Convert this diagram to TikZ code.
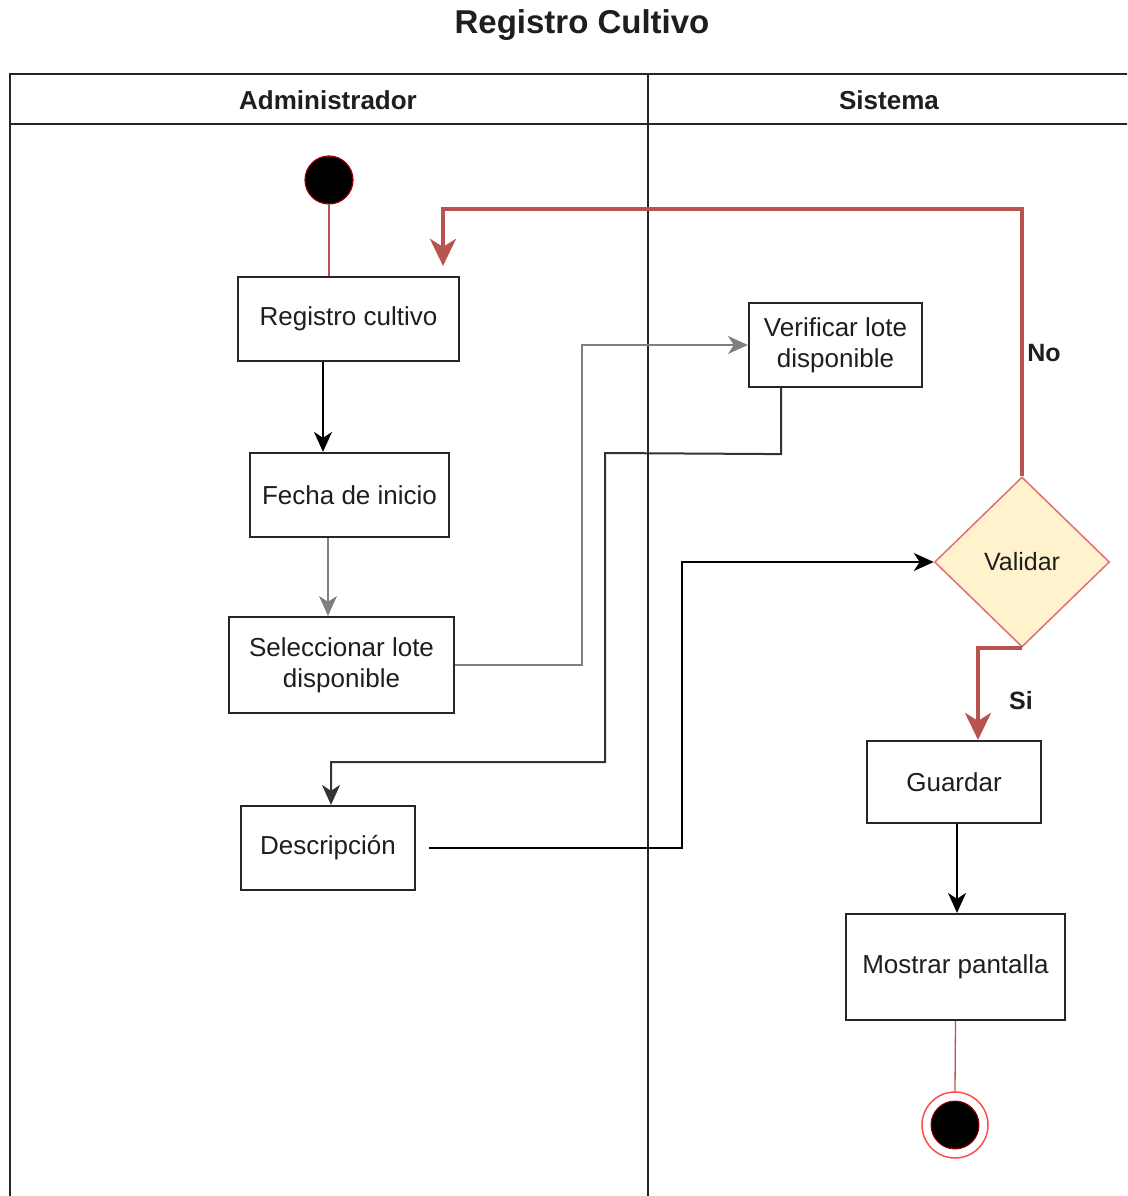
\documentclass[tikz,border=0pt]{standalone}
\usepackage{fontspec}
\setmainfont{Liberation Sans}
\usetikzlibrary{arrows.meta,shapes.geometric,calc}

\definecolor{txt}{HTML}{1E1E1E}
\definecolor{redline}{HTML}{B85450}
\definecolor{decfill}{HTML}{FFF2CC}
\definecolor{decdraw}{HTML}{E07070}
\definecolor{greyline}{HTML}{7F7F7F}

\tikzset{
  act/.style={draw=black!85, line width=2.2pt, fill=white, text=txt, align=center,
              inner sep=0pt, font=\fontsize{26}{31}\selectfont},
  arr/.style={draw=black, line width=2pt,
              -{Stealth[length=20pt,width=18pt,inset=6pt]}},
  greyarr/.style={arr, draw=greyline},
  redarr/.style={draw=redline, line width=4pt,
                 -{Stealth[length=27pt,width=26pt,inset=8pt]}},
  thinred/.style={draw=redline, line width=1.3pt},
  lanehead/.style={font=\bfseries\fontsize{26}{30}\selectfont, text=txt},
  guard/.style={font=\bfseries\fontsize{25}{29}\selectfont, text=txt},
}

\begin{document}
\begin{tikzpicture}[x=1pt,y=-1pt]
  \useasboundingbox (0,0) rectangle (1127,1196);
  \clip (0,0) rectangle (1127,1196);

  % title
  \node[font=\bfseries\fontsize{33}{38}\selectfont, text=txt] (title) at (582,25) {Registro Cultivo};

  % swimlane pool
  \draw[line width=2pt, black!85] (10,1220) -- (10,74) -- (1150,74);
  \draw[line width=2pt, black!85] (10,124) -- (1150,124);
  \draw[line width=2pt, black!85] (648,74) -- (648,1220);
  \node[lanehead] (laneA) at (328,100) {Administrador};
  \node[lanehead] (laneB) at (889,100) {Sistema};

  % activities
  \node[act, minimum width=221pt, minimum height=84pt] (reg)   at (348.5,319) {Registro cultivo};
  \node[act, minimum width=199pt, minimum height=84pt] (fecha) at (349.5,495) {Fecha de inicio};
  \node[act, minimum width=225pt, minimum height=96pt] (sel)   at (341.5,665) {Seleccionar lote\\disponible};
  \node[act, minimum width=174pt, minimum height=84pt] (desc)  at (328,848)   {Descripción};
  \node[act, minimum width=173pt, minimum height=84pt] (ver)   at (835.5,345) {Verificar lote\\disponible};
  \node[act, minimum width=174pt, minimum height=82pt] (guard) at (954,782)   {Guardar};
  \node[act, minimum width=219pt, minimum height=106pt] (most) at (955.5,967) {Mostrar pantalla};

  % decision
  \node[diamond, draw=decdraw, fill=decfill, line width=1.5pt, text=txt,
        minimum width=175pt, minimum height=170pt, inner sep=0pt,
        font=\fontsize{25}{30}\selectfont] (val) at (1022,562) {Validar};

  % initial and final states
  \node[circle, fill=black, draw=red!60!black, line width=1.2pt,
        minimum size=48pt, inner sep=0pt] (start) at (329,180) {};
  \node[circle, draw=red!70, line width=1.5pt, fill=white,
        minimum size=66pt, inner sep=0pt] (end) at (955,1125) {};
  \node[circle, fill=black, draw=red!60!black, line width=1pt,
        minimum size=48pt, inner sep=0pt] (endin) at (955,1125) {};

  % control flow
  \draw[thinred] (start.south) -- (start.south |- reg.north);
  \draw[arr] ([xshift=-25.5pt]reg.south) -- ([xshift=-25.5pt]reg.south |- fecha.north);
  \draw[greyarr] ([xshift=-21.5pt]fecha.south) -- ([xshift=-21.5pt]fecha.south |- sel.north);
  \draw[greyarr] (sel.east) -- ++(127,0) |- (ver.west);
  \draw[arr, draw=black!80] ([xshift=-54.5pt]ver.south) -- ++(0,66) -- (605,453) -- (605,762)
        -| ([xshift=3pt]desc.north);
  \draw[arr] ([xshift=13pt]desc.east) -- ++(253,0) |- (val.west);
  \draw[redarr] (val.north) |- (443,209) -- ([xshift=94.5pt,yshift=10pt]reg.north);
  \draw[redarr] (val.south) -| ([xshift=24pt]guard.north);
  \draw[arr] ([xshift=3pt]guard.south) -- ([xshift=3pt]guard.south |- most.north);
  \draw[thinred] (most.south) -- (end.north);

  % guard labels
  \node[guard] (no) at (1044,353) {No};
  \node[guard] (si) at (1021,701) {Si};
\end{tikzpicture}
\end{document}
